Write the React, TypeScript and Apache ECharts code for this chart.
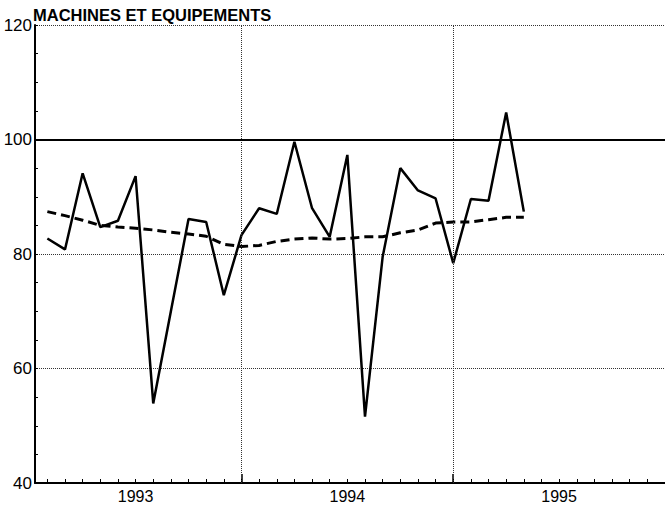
import React, { useEffect, useRef } from 'react';
import * as echarts from 'echarts';

const TITLE = 'MACHINES ET EQUIPEMENTS';

// Monthly observations (year-month)
const PERIODS = [
  '1993-02', '1993-03', '1993-04', '1993-05', '1993-06', '1993-07', '1993-08',
  '1993-09', '1993-10', '1993-11', '1993-12', '1994-01', '1994-02', '1994-03',
  '1994-04', '1994-05', '1994-06', '1994-07', '1994-08', '1994-09', '1994-10',
  '1994-11', '1994-12', '1995-01', '1995-02', '1995-03', '1995-04', '1995-05',
];

// Raw index (solid line)
const PRODUCTION = [
  82.7, 80.8, 94.1, 84.7, 85.8, 93.6, 53.9,
  70.0, 86.1, 85.6, 72.8, 83.3, 88.0, 87.0,
  99.6, 88.0, 83.0, 97.3, 51.6, 79.5, 95.0,
  91.1, 89.7, 78.4, 89.6, 89.3, 104.7, 87.4,
];

// Trend (dashed line)
const TREND = [
  87.4, 86.7, 85.9, 85.0, 84.7, 84.5, 84.2,
  83.8, 83.5, 83.1, 81.7, 81.3, 81.5, 82.2,
  82.6, 82.8, 82.6, 82.7, 83.0, 83.0, 83.7,
  84.2, 85.4, 85.6, 85.6, 86.0, 86.4, 86.4,
];

const Y_MIN = 40;
const Y_MAX = 120;
const Y_STEP = 20;
const REFERENCE_LEVEL = 100;

const YEAR_LABELS = ['1993', '1994', '1995'];
const YEAR_LABEL_AT = [6, 18, 30]; // months since Jan 1993 (mid-year)
const YEAR_STARTS = [12, 24]; // Jan 1994, Jan 1995
const X_MIN = 0.3;
const X_MAX = 36;

const FONT = '"Liberation Sans", Arial, Helvetica, sans-serif';

function monthIndex(p: string): number {
  const [y, m] = p.split('-').map(Number);
  return (y - 1993) * 12 + (m - 1);
}

export default function App() {
  const ref = useRef<HTMLDivElement>(null);

  useEffect(() => {
    if (!ref.current) return;
    const chart = echarts.init(ref.current, null, { renderer: 'svg' });

    const monthTicks: number[] = [];
    for (let m = Math.ceil(X_MIN); m < X_MAX; m++) monthTicks.push(m);

    const prodData = PERIODS.map((p, i) => [monthIndex(p), PRODUCTION[i]]);
    const trendData = PERIODS.map((p, i) => [monthIndex(p), TREND[i]]);

    const option: any = {
      animation: false,
      backgroundColor: '#fff',
      title: {
        text: TITLE,
        left: 33,
        top: 6,
        padding: 0,
        textStyle: { fontFamily: FONT, fontSize: 16.5, fontWeight: 'bold', color: '#000' },
      },
      grid: { left: 35, right: -2, top: 25, bottom: 24, containLabel: false },
      xAxis: [
        {
          type: 'value',
          position: 'bottom',
          min: X_MIN,
          max: X_MAX,
          axisLine: { show: true, onZero: false, lineStyle: { color: '#000', width: 2 } },
          axisTick: {
            show: true,
            inside: true,
            length: 4,
            customValues: monthTicks,
            lineStyle: { color: '#000', width: 1 },
          },
          axisLabel: {
            show: true,
            customValues: YEAR_LABEL_AT,
            formatter: (v: number) => {
              const i = YEAR_LABEL_AT.indexOf(v);
              return i >= 0 ? YEAR_LABELS[i] : '';
            },
            fontFamily: FONT,
            fontSize: 16,
            color: '#000',
            margin: 5,
          },
          splitLine: { show: false },
        },
        {
          type: 'value',
          position: 'bottom',
          min: X_MIN,
          max: X_MAX,
          axisLine: { show: false },
          axisTick: {
            show: true,
            inside: true,
            length: 9,
            customValues: YEAR_STARTS,
            lineStyle: { color: '#000', width: 1.5 },
          },
          axisLabel: { show: false },
          splitLine: { show: false },
        },
      ],
      yAxis: {
        type: 'value',
        min: Y_MIN,
        max: Y_MAX,
        interval: Y_STEP,
        axisLine: { show: true, onZero: false, lineStyle: { color: '#000', width: 2 } },
        axisTick: { show: true, inside: true, length: 3, lineStyle: { color: '#000', width: 1 } },
        minorTick: { show: true, splitNumber: 4, length: 3, lineStyle: { color: '#000', width: 1 } },
        axisLabel: { fontFamily: FONT, fontSize: 17, color: '#000', margin: 3 },
        splitLine: { show: true, lineStyle: { color: '#333', width: 1, type: [1, 1] } },
      },
      series: [
        {
          type: 'line',
          name: 'trend',
          data: trendData,
          showSymbol: false,
          symbol: 'none',
          lineStyle: { color: '#000', width: 3, type: [9, 5] },
          z: 3,
          markLine: {
            silent: true,
            symbol: 'none',
            label: { show: false },
            lineStyle: { color: '#333', width: 1, type: [1, 1] },
            data: YEAR_STARTS.map((m) => ({ xAxis: m })),
          },
        },
        {
          type: 'line',
          name: 'production',
          data: prodData,
          showSymbol: false,
          symbol: 'none',
          lineStyle: { color: '#000', width: 2.5 },
          z: 4,
          markLine: {
            silent: true,
            symbol: 'none',
            label: { show: false },
            lineStyle: { color: '#000', width: 2, type: 'solid' },
            data: [{ yAxis: REFERENCE_LEVEL }],
          },
        },
      ],
    };

    chart.setOption(option);
    return () => chart.dispose();
  }, []);

  return <div ref={ref} style={{ width: 665, height: 507, position: 'absolute', left: 0, top: 0 }} />;
}
